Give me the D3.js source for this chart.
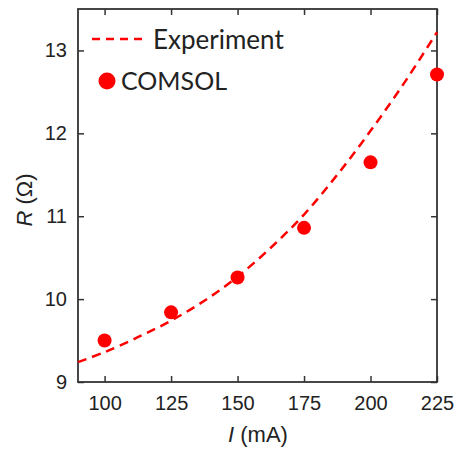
<!DOCTYPE html>
<html lang="en">
<head>
<meta charset="UTF-8">
<title>R vs I</title>
<script src="https://d3js.org/d3.v7.min.js"></script>
<style>
  body { margin: 0; background: #fff; }
  svg text { fill: #222; }
</style>
</head>
<body>
<div id="chart"></div>
<script>
// COMSOL points
const simCurrent = [100, 125, 150, 175, 200, 225];
const simR = [9.5, 9.84, 10.26, 10.86, 11.65, 12.71];

// experiment curve
const expCurrent = [90, 100, 112.5, 125, 137.5, 150, 162.5, 175, 187.5, 200, 212.5, 225];
const expR = [9.24, 9.36, 9.54, 9.74, 9.98, 10.27, 10.62, 11.02, 11.5, 12.03, 12.6, 13.22];

const xTicks = [100, 125, 150, 175, 200, 225];
const yTicks = [9, 10, 11, 12, 13];

const width = 459, height = 451;
const m = {left: 78, right: 22, top: 9, bottom: 69};

const svg = d3.select("#chart").append("svg")
    .attr("width", width)
    .attr("height", height);

const x = d3.scaleLinear().domain([90, 225]).range([m.left, width - m.right]);
const y = d3.scaleLinear().domain([9, 13.5]).range([height - m.bottom, m.top]);

const tickFont = "'Liberation Sans', Arial, sans-serif";
const axisCol = "#333";

// axes: ticks point inward, mirrored on top/right
function styleAxis(g) {
    g.attr("font-family", null).attr("font-size", null);
    g.select(".domain").remove();
    g.selectAll("line").attr("stroke", axisCol).attr("stroke-width", 1.5);
    g.selectAll("text").style("font-family", tickFont).style("font-size", "20px").attr("fill", "#222");
}

svg.append("g")
    .attr("transform", `translate(0,${height - m.bottom})`)
    .call(d3.axisBottom(x).tickValues(xTicks).tickSizeInner(-6).tickSizeOuter(0).tickPadding(14))
    .call(styleAxis);
svg.append("g")
    .attr("transform", `translate(0,${m.top})`)
    .call(d3.axisTop(x).tickValues(xTicks).tickSizeInner(-6).tickSizeOuter(0).tickFormat(""))
    .call(styleAxis);
svg.append("g")
    .attr("transform", `translate(${m.left},0)`)
    .call(d3.axisLeft(y).tickValues(yTicks).tickFormat(d3.format("d")).tickSizeInner(-6).tickSizeOuter(0).tickPadding(11))
    .call(styleAxis);
svg.append("g")
    .attr("transform", `translate(${width - m.right},0)`)
    .call(d3.axisRight(y).tickValues(yTicks).tickSizeInner(-6).tickSizeOuter(0).tickFormat(""))
    .call(styleAxis);

// box
svg.append("rect")
    .attr("x", m.left).attr("y", m.top)
    .attr("width", width - m.left - m.right)
    .attr("height", height - m.top - m.bottom)
    .attr("fill", "none")
    .attr("stroke", axisCol)
    .attr("stroke-width", 1.8);

// experiment dashed line
const line = d3.line()
    .x((d, i) => x(expCurrent[i]))
    .y(d => y(d))
    .curve(d3.curveCatmullRom);

svg.append("path")
    .datum(expR)
    .attr("d", line)
    .attr("fill", "none")
    .attr("stroke", "#ff0000")
    .attr("stroke-width", 2.5)
    .attr("stroke-dasharray", "9,6");

// COMSOL dots
svg.selectAll(".dot")
    .data(simR)
    .enter().append("circle")
    .attr("class", "dot")
    .attr("cx", (d, i) => x(simCurrent[i]))
    .attr("cy", d => y(d))
    .attr("r", 7)
    .attr("fill", "#ff0000");

// legend
const lg = svg.append("g");
lg.append("line")
    .attr("x1", 92).attr("x2", 144)
    .attr("y1", 39).attr("y2", 39)
    .attr("stroke", "#ff0000")
    .attr("stroke-width", 2.5)
    .attr("stroke-dasharray", "8,6");
lg.append("text")
    .attr("x", 153).attr("y", 49)
    .style("font-family", "Lato, 'Open Sans', sans-serif")
    .style("font-size", "26px")
    .text("Experiment");
lg.append("circle")
    .attr("cx", 107).attr("cy", 81)
    .attr("r", 8.5)
    .attr("fill", "#ff0000");
lg.append("text")
    .attr("x", 121).attr("y", 90)
    .style("font-family", "Lato, 'Open Sans', sans-serif")
    .style("font-size", "25px")
    .text("COMSOL");

// axis labels
const xl = svg.append("text")
    .attr("x", 258)
    .attr("y", 442)
    .attr("text-anchor", "middle")
    .style("font-family", tickFont)
    .style("font-size", "22px");
xl.append("tspan").style("font-style", "italic").text("I");
xl.append("tspan").text(" (mA)");

const yl = svg.append("text")
    .attr("transform", `translate(32,200) rotate(-90)`)
    .attr("text-anchor", "middle")
    .style("font-family", tickFont)
    .style("font-size", "22px");
yl.append("tspan").style("font-style", "italic").text("R");
yl.append("tspan").text(" (Ω)");
</script>
</body>
</html>
